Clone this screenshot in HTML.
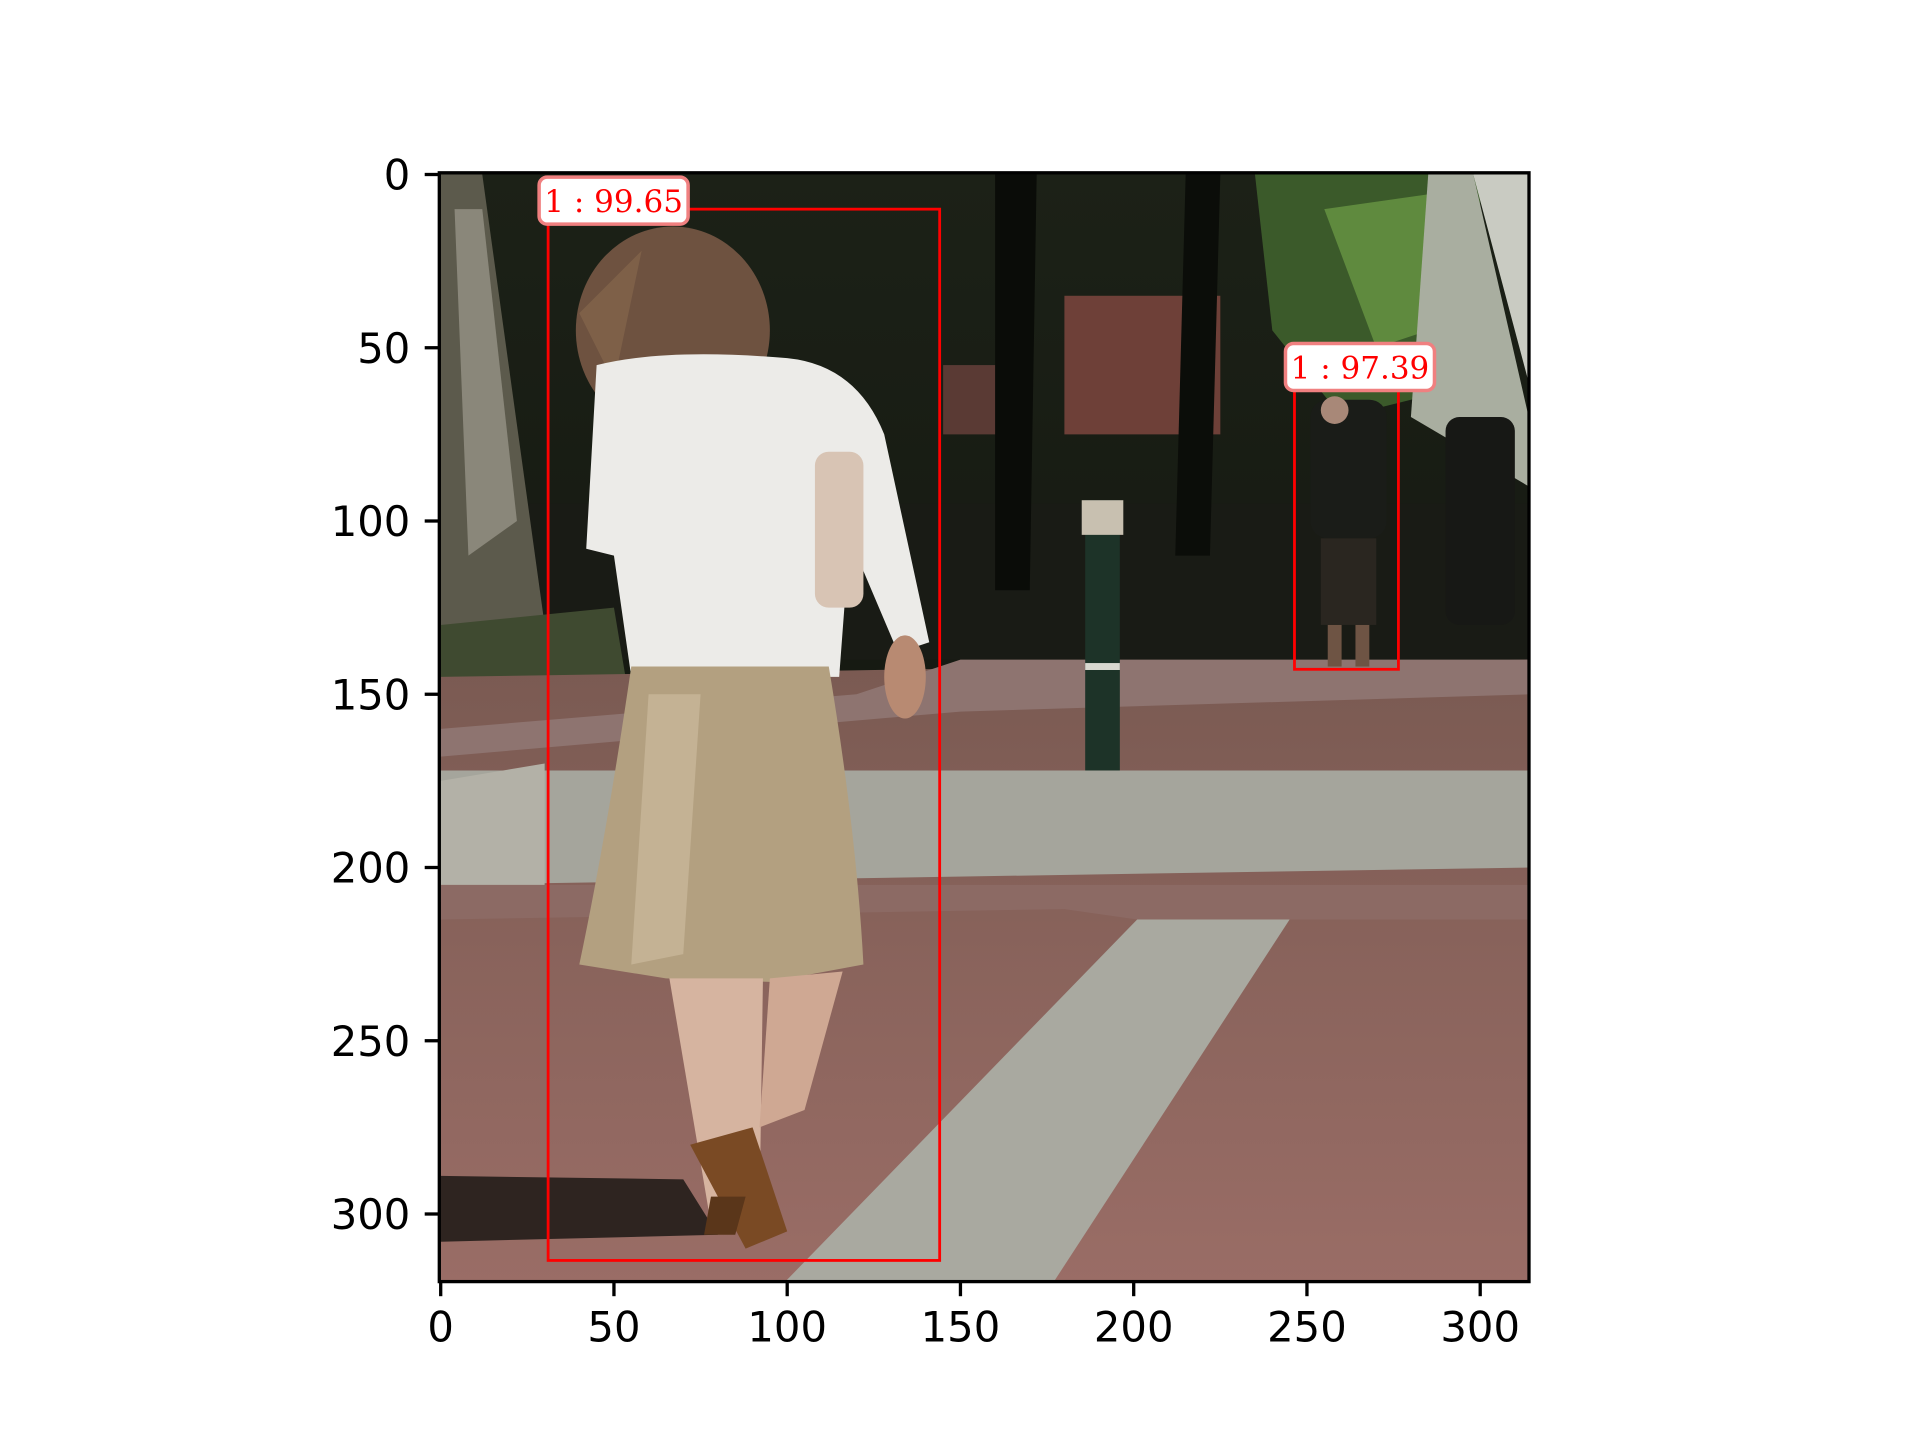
<!DOCTYPE html>
<html>
<head>
<meta charset="utf-8">
<style>
html,body{margin:0;padding:0;background:#fff;}
svg{display:block;}
text{font-family:"DejaVu Sans","Liberation Sans",sans-serif;}
</style>
</head>
<body>
<svg id="fig" width="1920" height="1440" viewBox="0 0 1920 1440" xmlns="http://www.w3.org/2000/svg">
<defs>
  <clipPath id="axclip"><rect x="439" y="172.8" width="1091.5" height="1108.8"/></clipPath>
  <linearGradient id="sky" x1="0" y1="0" x2="0" y2="1">
    <stop offset="0" stop-color="#1c2117"/>
    <stop offset="1" stop-color="#0e110c"/>
  </linearGradient>
  <linearGradient id="brick" x1="0" y1="0" x2="0" y2="1">
    <stop offset="0" stop-color="#7a5a52"/>
    <stop offset="1" stop-color="#9a6d66"/>
  </linearGradient>
</defs>
<g clip-path="url(#axclip)">
  <!-- image in pixel units: x from -0.5, y from -0.5, scale 3.465 -->
  <g transform="translate(440.7,174.5) scale(3.465)">
    <rect x="-1" y="-1" width="318" height="322" fill="url(#sky)"/>
    <!-- lighter greenery top right -->
    <polygon points="235,0 300,0 300,60 260,70 240,45" fill="#3b5a2a"/>
    <polygon points="255,10 290,5 300,40 270,50" fill="#5f8a3e"/>
    <!-- building right -->
    <polygon points="285,0 298,0 314,70 314,90 280,70" fill="#a9aea0"/>
    <polygon points="298,0 314,0 314,60" fill="#c9cbc2"/>
    <!-- pink building -->
    <rect x="180" y="35" width="45" height="40" fill="#6e4038"/>
    <rect x="145" y="55" width="25" height="20" fill="#5a3a34"/>
    <!-- mid dark ground behind -->
    <rect x="0" y="95" width="315" height="45" fill="#191b15"/>
    <!-- trunks -->
    <polygon points="0,0 12,0 30,130 5,140 0,140" fill="#5c5a4c"/>
    <polygon points="4,10 12,10 22,100 8,110" fill="#8a877a"/>
    <polygon points="160,0 172,0 170,120 160,120" fill="#0a0c08"/>
    <polygon points="215,0 225,0 222,110 212,110" fill="#0b0d09"/>
    <!-- green grass left -->
    <polygon points="0,130 50,125 55,155 0,160" fill="#3f4a30"/>
    <!-- ground brick -->
    <polygon points="0,145 315,140 315,321 0,321" fill="url(#brick)"/>
    <!-- horizontal grey sidewalk band -->
    <polygon points="0,172 315,172 315,200 0,205" fill="#a5a59c"/>
    <polygon points="0,160 120,150 150,140 315,140 315,150 150,155 0,168" fill="#8e7470"/>
    <!-- left grey patch -->
    <polygon points="0,175 30,170 30,205 0,210" fill="#b3b1a7"/>
    <!-- diagonal grey strip -->
    <polygon points="201,215 245,215 176,321 98,321" fill="#a9a9a0"/>
    <polygon points="0,205 315,205 315,215 201,215 180,212 0,215" fill="#8c6a64"/>
    <!-- shadow -->
    <polygon points="0,289 70,290 80,306 0,308" fill="#2e2420"/>
    <!-- pole -->
    <rect x="186" y="94" width="10" height="78" fill="#1d3328"/>
    <rect x="185" y="94" width="12" height="10" fill="#c8c0b0"/>
    <rect x="186" y="141" width="10" height="2" fill="#d8d8d0"/>
    <!-- small person -->
    <rect x="251" y="65" width="22" height="40" rx="5" fill="#1a1c18"/>
    <rect x="254" y="105" width="16" height="25" fill="#2a2620"/>
    <circle cx="258" cy="68" r="4" fill="#a88878"/>
    <rect x="256" y="130" width="4" height="12" fill="#6e5444"/>
    <rect x="264" y="130" width="4" height="12" fill="#6e5444"/>
    <!-- far people right -->
    <rect x="290" y="70" width="20" height="60" rx="4" fill="#171815"/>
    <!-- woman: hair -->
    <ellipse cx="67" cy="45" rx="28" ry="30" fill="#6e5240"/>
    <polygon points="40,40 58,22 50,60" fill="#7e6048"/>
    <!-- white top -->
    <path d="M45,55 Q65,50 100,53 Q120,55 128,75 L141,135 L132,138 L118,105 L115,145 L55,145 L50,110 L42,108 Z" fill="#ecebe8"/>
    <!-- bag strap / bag -->
    <rect x="108" y="80" width="14" height="45" rx="4" fill="#d8c4b4"/>
    <!-- arm/hand -->
    <ellipse cx="134" cy="145" rx="6" ry="12" fill="#b88a72"/>
    <!-- skirt -->
    <path d="M55,142 L112,142 Q120,190 122,228 L95,233 L65,232 L40,228 Q48,190 55,142 Z" fill="#b3a080"/>
    <path d="M60,150 L75,150 L70,225 L55,228 Z" fill="#c4b294"/>
    <!-- legs -->
    <polygon points="66,232 93,232 92,300 78,303" fill="#d6b4a0"/>
    <polygon points="95,232 116,230 105,270 92,275" fill="#cfa893"/>
    <!-- shoes -->
    <polygon points="72,280 90,275 100,305 88,310" fill="#7a4a24"/>
    <polygon points="78,295 88,295 85,306 76,306" fill="#5a361a"/>
  </g>
</g>
<g id="overlay"></g>
<g id="axes"></g>
</svg>
<script>
const xTicks = [0, 50, 100, 150, 200, 250, 300];
const yTicks = [0, 50, 100, 150, 200, 250, 300];
const boxX1 = [31, 246.4];
const boxY1 = [10, 58];
const boxX2 = [144, 276.4];
const boxY2 = [313.4, 142.8];
const boxLabels = ["1 : 99.65", "1 : 97.39"];

const NS = "http://www.w3.org/2000/svg";
const S = 3.465;
function xs(v){ return 440.7 + v * S; }
function ys(v){ return 174.5 + v * S; }
function mk(tag, attrs, parent){
  const e = document.createElementNS(NS, tag);
  for (const k in attrs) e.setAttribute(k, attrs[k]);
  parent.appendChild(e);
  return e;
}
const ov = document.getElementById('overlay');
for (let i = 0; i < boxLabels.length; i++) {
  const x1 = xs(boxX1[i]), y1 = ys(boxY1[i]), x2 = xs(boxX2[i]), y2 = ys(boxY2[i]);
  const r = mk('rect', {x:x1, y:y1, width:x2-x1, height:y2-y1, fill:'none', stroke:'#ff0000', 'stroke-width':2.8}, ov);
  
  
  const lb = mk('rect', {x:x1-9, y:y1-32, width:149, height:47, rx:8, fill:'#ffffff', stroke:'#f08080', 'stroke-width':3.5}, ov);
  
  
  const t = mk('text', {x:x1-9+74.5, y:y1+3, 'text-anchor':'middle', fill:'#ff0000', 'font-size':31}, ov);
  t.setAttribute('style', 'font-family:"DejaVu Serif","Liberation Serif",serif');
  
  
  t.textContent = boxLabels[i];
}
const ax = document.getElementById('axes');
const L = 439.3, R = 1529, T = 172.8, B = 1281.6;
const sp = mk('rect', {x:L, y:T, width:R-L, height:B-T, fill:'none', stroke:'#000', 'stroke-width':3.3}, ax);


xTicks.forEach(v => {
  const x = xs(v);
  const tk = mk('line', {x1:x, y1:B, x2:x, y2:B+14.6, stroke:'#000', 'stroke-width':3.3}, ax);
  
  
  const t = mk('text', {x:x, y:B+60, 'text-anchor':'middle', 'font-size':41.7, fill:'#000'}, ax);
  
  
  t.textContent = v;
});
yTicks.forEach(v => {
  const y = ys(v);
  const tk = mk('line', {x1:L-14.6, y1:y, x2:L, y2:y, stroke:'#000', 'stroke-width':3.3}, ax);
  
  
  const t = mk('text', {x:L-29, y:y+15, 'text-anchor':'end', 'font-size':41.7, fill:'#000'}, ax);
  
  
  t.textContent = v;
});
</script>
</body>
</html>
